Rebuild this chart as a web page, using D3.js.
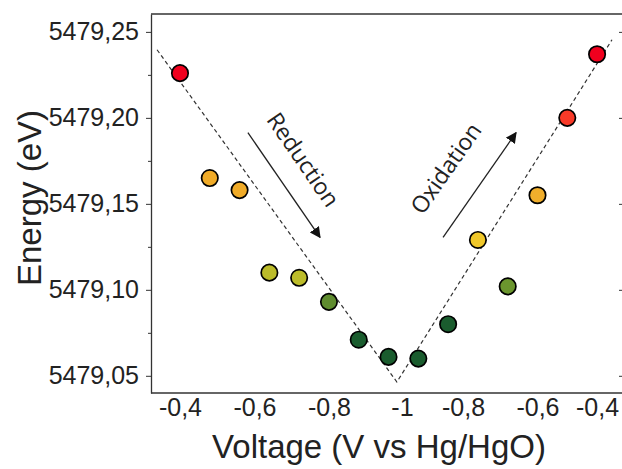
<!DOCTYPE html>
<html>
<head>
<meta charset="utf-8">
<script src="https://cdn.jsdelivr.net/npm/d3@7"></script>
<style>
  html, body { margin: 0; padding: 0; background: #fff; }
  svg { display: block; }
  text { font-family: "Liberation Sans", Arial, sans-serif; fill: #222; }
</style>
</head>
<body>
<svg id="chart" width="622" height="469"></svg>
<script>
// ---- data ----
const steps = [0, 1, 2, 3, 4, 5, 6, 7, 8, 9, 10, 11, 12, 13, 14];
const energy = [5479.226, 5479.165, 5479.158, 5479.110, 5479.107, 5479.093, 5479.071, 5479.061,
                5479.060, 5479.080, 5479.129, 5479.102, 5479.155, 5479.200, 5479.237];
const pointColors = ["#f0001e", "#f0ab28", "#f0ab28", "#bcbc2a", "#bcbc2a", "#5f8c2f", "#1a5c2e", "#1a5c2e",
                     "#1a5c2e", "#1a5c2e", "#f0c82a", "#6b962e", "#f0ae2c", "#f83a28", "#f0001e"];
const xTickPositions = [0, 2.5, 5, 7.45, 9.5, 12, 14];
const xTickLabels = ["-0,4", "-0,6", "-0,8", "-1", "-0,8", "-0,6", "-0,4"];
const yTicks = [5479.05, 5479.10, 5479.15, 5479.20, 5479.25];
const yMinorTicks = [5479.075, 5479.125, 5479.175, 5479.225];
const guideX = [-0.77, 7.28, 14.5];
const guideY = [5479.2396, 5479.0464, 5479.2454];
const annotations = ["Reduction", "Oxidation"];
const arrowStartX = [2.28, 8.83];
const arrowStartY = [5479.1914, 5479.1305];
const arrowEndX = [4.70, 11.28];
const arrowEndY = [5479.1305, 5479.1914];
const labelX = [4.08, 8.98];
const labelY = [5479.1750, 5479.170];

// ---- layout ----
const svg = d3.select("#chart");
const plotLeft = 151, plotRight = 623, plotTop = 14, plotBottom = 393;

const x = d3.scaleLinear().domain([-0.973, 14.87]).range([plotLeft, plotRight]);
const y = d3.scaleLinear().domain([5479.040, 5479.2604]).range([plotBottom, plotTop]);
const fmt = d => d3.format(".2f")(d).replace(".", ",");

// frame
svg.append("line").attr("x1", plotLeft).attr("x2", plotRight).attr("y1", plotTop).attr("y2", plotTop)
  .attr("stroke", "#333").attr("stroke-width", 1.3);
svg.append("line").attr("x1", plotLeft).attr("x2", plotRight).attr("y1", plotBottom).attr("y2", plotBottom)
  .attr("stroke", "#333").attr("stroke-width", 1.3);

// left axis
const yAxis = svg.append("g").attr("transform", `translate(${plotLeft},0)`)
  .call(d3.axisLeft(y).tickValues(yTicks).tickFormat(fmt).tickSize(5).tickSizeOuter(0).tickPadding(7));
yAxis.select(".domain").attr("stroke", "#333").attr("stroke-width", 1.3);
yAxis.selectAll(".tick line").attr("stroke", "#333");
yAxis.selectAll(".tick text").style("font-size", "25px").attr("fill", "#222")
  .style("font-family", '"Liberation Sans", Arial, sans-serif');
svg.append("g").attr("transform", `translate(${plotLeft},0)`)
  .call(d3.axisLeft(y).tickValues(yMinorTicks).tickFormat("").tickSize(3).tickSizeOuter(0))
  .call(g => g.select(".domain").remove())
  .selectAll(".tick line").attr("stroke", "#333");

// right axis (ticks only visible)
const yRight = svg.append("g").attr("transform", `translate(${plotRight},0)`)
  .call(d3.axisRight(y).tickValues(yTicks).tickFormat("").tickSize(-4).tickSizeOuter(0));
yRight.select(".domain").attr("stroke", "#333").attr("stroke-width", 1.3);
yRight.selectAll(".tick line").attr("stroke", "#333");

// bottom axis labels
const xAxis = svg.append("g").attr("transform", `translate(0,${plotBottom})`)
  .call(d3.axisBottom(x).tickValues(xTickPositions).tickFormat((d, i) => xTickLabels[i]).tickSize(0).tickPadding(5));
xAxis.select(".domain").remove();
xAxis.selectAll(".tick text").style("font-size", "25px").attr("fill", "#222")
  .style("font-family", '"Liberation Sans", Arial, sans-serif');

// axis titles
svg.append("text").attr("x", 379).attr("y", 458).attr("text-anchor", "middle")
  .style("font-size", "33px").text("Voltage (V vs Hg/HgO)");
svg.append("text").attr("transform", "translate(41,198) rotate(-90)").attr("text-anchor", "middle")
  .style("font-size", "33px").text("Energy (eV)");

// dashed guide line
const guide = guideX.map((gx, i) => [gx, guideY[i]]);
svg.append("path").datum(guide)
  .attr("d", d3.line().x(d => x(d[0])).y(d => y(d[1])))
  .attr("fill", "none").attr("stroke", "#333").attr("stroke-width", 1.2).attr("stroke-dasharray", "4,3");

// arrows
svg.append("defs").append("marker").attr("id", "arrowhead")
  .attr("viewBox", "0 0 10 10").attr("refX", 9).attr("refY", 5)
  .attr("markerWidth", 11).attr("markerHeight", 11).attr("markerUnits", "userSpaceOnUse")
  .attr("orient", "auto")
  .append("path").attr("d", "M0,0 L10,5 L0,10 Z").attr("fill", "#111");

annotations.forEach((name, i) => {
  const x1 = x(arrowStartX[i]), y1 = y(arrowStartY[i]);
  const x2 = x(arrowEndX[i]), y2 = y(arrowEndY[i]);
  svg.append("line").attr("x1", x1).attr("y1", y1).attr("x2", x2).attr("y2", y2)
    .attr("stroke", "#222").attr("stroke-width", 1.3).attr("marker-end", "url(#arrowhead)");
  let ang = Math.atan2(y2 - y1, x2 - x1) * 180 / Math.PI;
  if (ang > 90) ang -= 180;
  if (ang < -90) ang += 180;
  svg.append("text")
    .attr("transform", `translate(${x(labelX[i])},${y(labelY[i])}) rotate(${ang})`)
    .attr("text-anchor", "middle").attr("dominant-baseline", "middle")
    .style("font-family", '"Open Sans", "Liberation Sans", sans-serif')
    .style("font-size", "23px").attr("fill", "#111").text(name);
});

// points
svg.append("g").selectAll("circle").data(steps).join("circle")
  .attr("cx", d => x(d)).attr("cy", (d, i) => y(energy[i]))
  .attr("r", 8.2).attr("fill", (d, i) => pointColors[i])
  .attr("stroke", "#000").attr("stroke-width", 1.7);
</script>
</body>
</html>
